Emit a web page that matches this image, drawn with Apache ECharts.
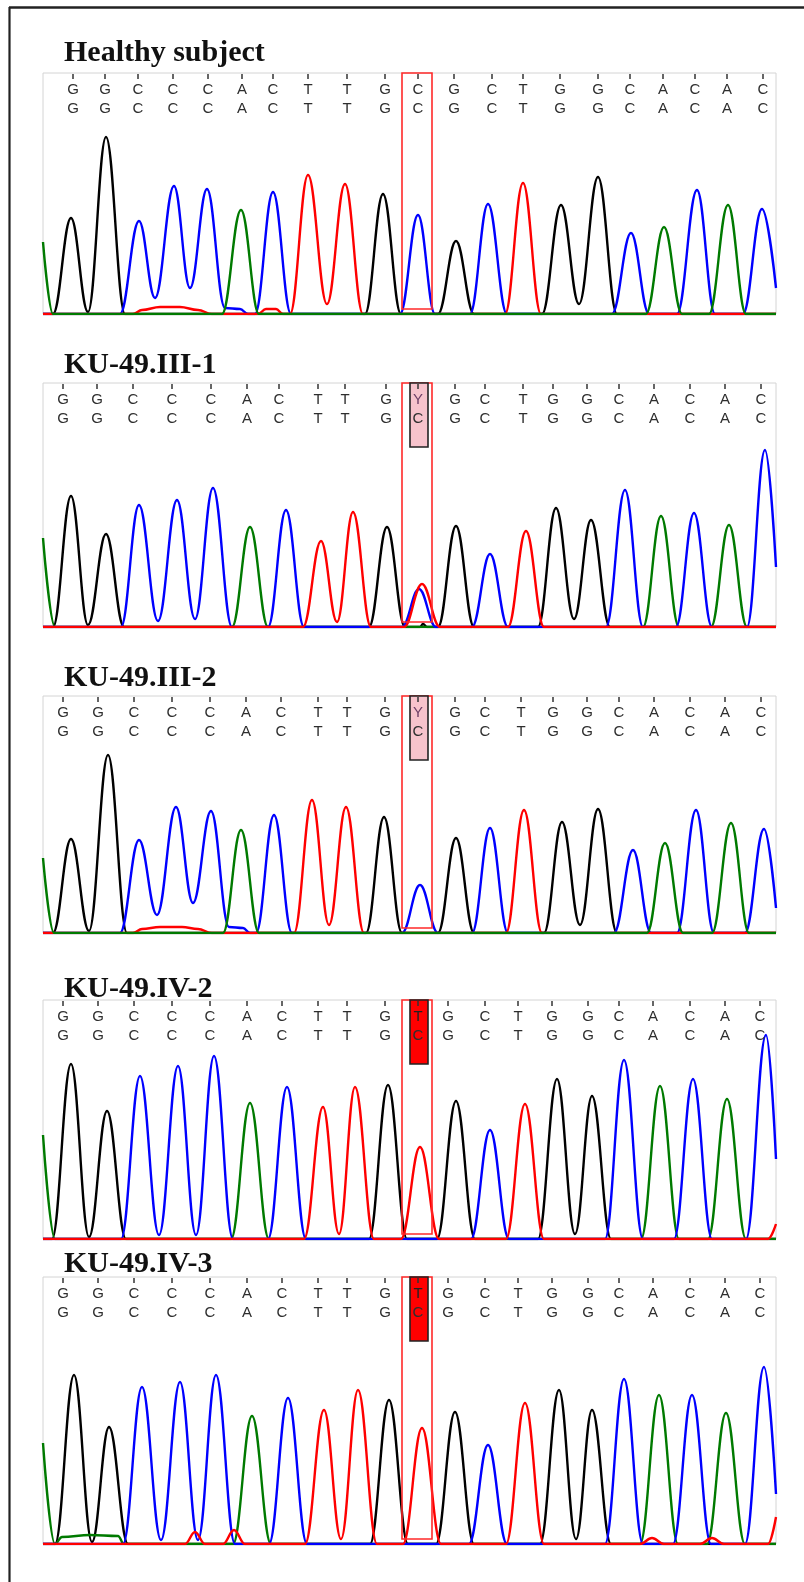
<!DOCTYPE html>
<html><head><meta charset="utf-8">
<script src="https://cdn.jsdelivr.net/npm/echarts@6/dist/echarts.min.js"></script>
<style>html,body{margin:0;padding:0;background:#fff}#c{width:804px;height:1582px}</style>
</head><body><div id="c"></div>
<script>
// ---------- data ----------
const panelTitles = ['Healthy subject', 'KU-49.III-1', 'KU-49.III-2', 'KU-49.IV-2', 'KU-49.IV-3'];
const refCalls = ['G','G','C','C','C','A','C','T','T','G','C','G','C','T','G','G','C','A','C','A','C'];
const variantCalls = ['C','Y','Y','T','T'];
const variantIndex = 10;
const variantKind = ['none','pink','pink','red','red'];

const callPos1 = [73,105,138,173,208,242,273,308,347,385,418,454,492,523,560,598,630,663,695,727,763];
const callPos2 = [63,97,133,172,211,247,279,318,345,386,418,455,485,523,553,587,619,654,690,725,761];
const callPos3 = [63,98,134,172,210,246,281,318,347,385,418,455,485,521,553,587,619,654,690,725,761];
const callPos4 = [63,98,134,172,210,247,282,318,347,385,418,448,485,518,552,588,619,653,690,725,760];
const callPos5 = [63,98,134,172,210,247,282,318,347,385,418,448,485,518,552,588,619,653,690,725,760];

// traces: [position, intensity] vertices (G black, C blue, T red, A green)
const p1G = [[43,0],[53,0],[71,96],[88,2],[106,177],[125,0],[365,0],[383,120],[401,0],[438,0],[456,73],[474,0],[542,0],[561,109],[579,10],[598,137],[617,0],[776,0]];
const p1C = [[43,0],[120,0],[139,93],[155,16],[174,128],[190,26],[207,125],[225,6],[240,5],[248,0],[255,0],[273,122],[291,0],[400,0],[418,99],[435,0],[470,0],[488,110],[507,0],[612,0],[631,81],[649,0],[677,0],[697,124],[715,0],[743,0],[762,105],[776,26]];
const p1T = [[43,0],[133,0],[142,4],[160,7],[180,7],[198,4],[212,0],[258,0],[266,5],[276,5],[283,0],[290,0],[308,139],[327,10],[345,130],[363,0],[505,0],[523,131],[541,0],[776,0]];
const p1A = [[43,72],[53,0],[222,0],[241,104],[259,0],[646,0],[664,87],[682,0],[709,0],[728,109],[746,0],[776,0]];

const p2G = [[43,0],[53,0],[71,131],[88,2],[106,93],[124,0],[369,0],[387,100],[405,0],[420,0],[423,3],[427,0],[438,0],[456,101],[474,0],[538,0],[556,119],[574,8],[591,107],[610,0],[776,0]];
const p2C = [[43,0],[121,0],[139,122],[158,6],[177,127],[195,8],[213,139],[232,0],[268,0],[286,117],[304,0],[402,0],[419,38],[436,0],[472,0],[490,73],[508,0],[606,0],[625,137],[643,0],[676,0],[694,114],[712,0],[747,0],[765,177],[776,60]];
const p2T = [[43,0],[303,0],[321,86],[337,5],[353,115],[371,0],[404,0],[422,43],[440,0],[508,0],[526,96],[544,0],[776,0]];
const p2A = [[43,89],[55,0],[232,0],[250,100],[268,0],[643,0],[661,111],[679,0],[711,0],[729,102],[747,0],[776,0]];

const p3G = [[43,0],[53,0],[71,94],[89,2],[108,178],[127,0],[366,0],[384,116],[402,0],[438,0],[456,95],[474,0],[544,0],[562,111],[580,8],[598,124],[617,0],[776,0]];
const p3C = [[43,0],[120,0],[139,93],[157,18],[176,126],[193,30],[211,122],[229,6],[243,5],[250,0],[256,0],[274,118],[292,0],[402,0],[420,48],[438,0],[472,0],[490,105],[508,0],[614,0],[633,83],[651,0],[677,0],[696,123],[714,0],[745,0],[764,104],[776,25]];
const p3T = [[43,0],[133,0],[142,4],[160,6],[182,6],[198,4],[212,0],[294,0],[312,133],[329,8],[346,126],[364,0],[506,0],[524,123],[542,0],[776,0]];
const p3A = [[43,75],[54,0],[223,0],[241,103],[259,0],[647,0],[665,90],[683,0],[712,0],[731,110],[749,0],[776,0]];

const p4G = [[43,0],[52,0],[71,175],[89,2],[107,128],[126,0],[369,0],[388,154],[407,0],[437,0],[456,138],[475,0],[538,0],[557,160],[575,5],[592,143],[611,0],[776,0]];
const p4C = [[43,0],[121,0],[140,163],[159,4],[178,173],[196,4],[214,183],[233,0],[268,0],[287,152],[306,0],[471,0],[490,109],[509,0],[605,0],[624,179],[643,0],[674,0],[693,160],[712,0],[746,0],[766,204],[776,80]];
const p4T = [[43,0],[304,0],[323,132],[339,5],[355,152],[374,0],[401,0],[420,92],[439,0],[506,0],[525,135],[544,0],[768,0],[776,15]];
const p4A = [[43,104],[55,0],[231,0],[250,136],[269,0],[641,0],[660,153],[679,0],[708,0],[727,140],[746,0],[776,0]];

const p5G = [[43,0],[55,0],[74,169],[92,2],[109,117],[128,0],[370,0],[389,144],[408,0],[436,0],[455,132],[474,0],[540,0],[559,154],[576,5],[592,134],[611,0],[776,0]];
const p5C = [[43,0],[123,0],[142,157],[161,4],[180,162],[198,4],[216,169],[235,0],[269,0],[288,146],[307,0],[469,0],[488,99],[507,0],[605,0],[624,165],[643,0],[673,0],[692,149],[711,0],[745,0],[764,177],[776,50]];
const p5T = [[43,0],[185,0],[195,12],[205,0],[223,0],[234,14],[245,0],[305,0],[324,134],[341,5],[358,154],[377,0],[403,0],[422,116],[441,0],[506,0],[525,141],[544,0],[640,0],[652,6],[664,0],[700,0],[712,6],[724,0],[768,0],[776,27]];
const p5A = [[43,101],[55,0],[62,7],[90,9],[118,8],[124,0],[233,0],[252,128],[271,0],[640,0],[659,149],[678,0],[707,0],[726,131],[745,0],[776,0]];

// ---------- layout ----------
const panels = [
  {top: 73,   base: 314,  titleTop: 33,   pos: callPos1, G: p1G, C: p1C, T: p1T, A: p1A, order: ['G','C','T','A']},
  {top: 383,  base: 627,  titleTop: 345,  pos: callPos2, G: p2G, C: p2C, T: p2T, A: p2A, order: ['G','A','C','T']},
  {top: 696,  base: 933,  titleTop: 658,  pos: callPos3, G: p3G, C: p3C, T: p3T, A: p3A, order: ['G','C','T','A']},
  {top: 1000, base: 1239, titleTop: 969,  pos: callPos4, G: p4G, C: p4C, T: p4T, A: p4A, order: ['G','A','C','T']},
  {top: 1277, base: 1544, titleTop: 1244, pos: callPos5, G: p5G, C: p5C, T: p5T, A: p5A, order: ['G','A','C','T']}
];
const colors = {G: '#000000', C: '#0000ff', T: '#ff0000', A: '#007a00'};
const X0 = 43, X1 = 776, W = 804;
const letterFont = '15px "Liberation Sans", Arial';

const grid = [], xAxis = [], yAxis = [], series = [], title = [];
panels.forEach((p, i) => {
  const h = p.base - p.top;
  grid.push({left: X0, width: X1 - X0, top: p.top, height: h, show: true, borderColor: '#d4d4d4', borderWidth: 1, backgroundColor: 'transparent'});
  xAxis.push({type: 'value', gridIndex: i, min: X0, max: X1, show: false});
  yAxis.push({type: 'value', gridIndex: i, min: 0, max: h, show: false});
  title.push({text: panelTitles[i], left: 59, top: p.titleTop,
    textStyle: {fontFamily: 'Liberation Serif', fontWeight: 'bold', fontSize: 30, color: '#111'}});
  p.order.forEach((k, j) => {
    series.push({type: 'line', xAxisIndex: i, yAxisIndex: i, data: p[k], symbol: 'none',
      smooth: 0.4, smoothMonotone: 'x', z: 2 + j,
      lineStyle: {color: colors[k], width: 2.4}, silent: true, animation: false});
  });
  const kind = variantKind[i];
  const calls = refCalls.map((c, k) => [p.pos[k], 0]);
  series.push({
    type: 'custom', xAxisIndex: i, yAxisIndex: i, z: 10, silent: true, animation: false,
    data: calls,
    renderItem: function (params, api) {
      const k = params.dataIndex;
      const x = api.coord([api.value(0), 0])[0];
      const cs = params.coordSys;
      const top = cs.y;
      const children = [];
      const isVar = k === variantIndex;
      const topLetter = isVar ? variantCalls[i] : refCalls[k];
      if (isVar) {
        children.push({type: 'rect', shape: {x: x - 16, y: top, width: 30, height: cs.height - 5},
          style: {fill: null, stroke: '#ff2a2a', lineWidth: 1.6}, z2: 1});
        if (kind !== 'none') {
          children.push({type: 'rect', shape: {x: x - 8, y: top, width: 18, height: 64},
            style: {fill: kind === 'pink' ? '#f7c3cc' : '#ff0000', stroke: '#222', lineWidth: 1.6}, z2: 2});
        }
      }
      let topColor = '#2e2e2e';
      if (isVar && kind === 'pink') topColor = '#6e3f66';
      if (isVar && kind === 'red') topColor = '#222';
      children.push({type: 'line', shape: {x1: x, y1: top + 1, x2: x, y2: top + 6},
        style: {stroke: '#333', lineWidth: 1.5}, z2: 3});
      children.push({type: 'text', x: x, y: top + 17, z2: 4,
        style: {text: topLetter, fill: topColor, font: letterFont, align: 'center', verticalAlign: 'middle'}});
      children.push({type: 'text', x: x, y: top + 36, z2: 4,
        style: {text: refCalls[k], fill: '#2e2e2e', font: letterFont, align: 'center', verticalAlign: 'middle'}});
      return {type: 'group', children: children};
    }
  });
});

const chart = echarts.init(document.getElementById('c'), null, {renderer: 'canvas'});
chart.setOption({
  animation: false,
  backgroundColor: '#ffffff',
  title: title,
  grid: grid, xAxis: xAxis, yAxis: yAxis, series: series,
  graphic: [
    {type: 'line', shape: {x1: 9, y1: 7.5, x2: W, y2: 7.5}, style: {stroke: '#222', lineWidth: 2.5}},
    {type: 'line', shape: {x1: 9.5, y1: 7, x2: 9.5, y2: 1582}, style: {stroke: '#222', lineWidth: 2.2}}
  ]
});
</script>
</body></html>
